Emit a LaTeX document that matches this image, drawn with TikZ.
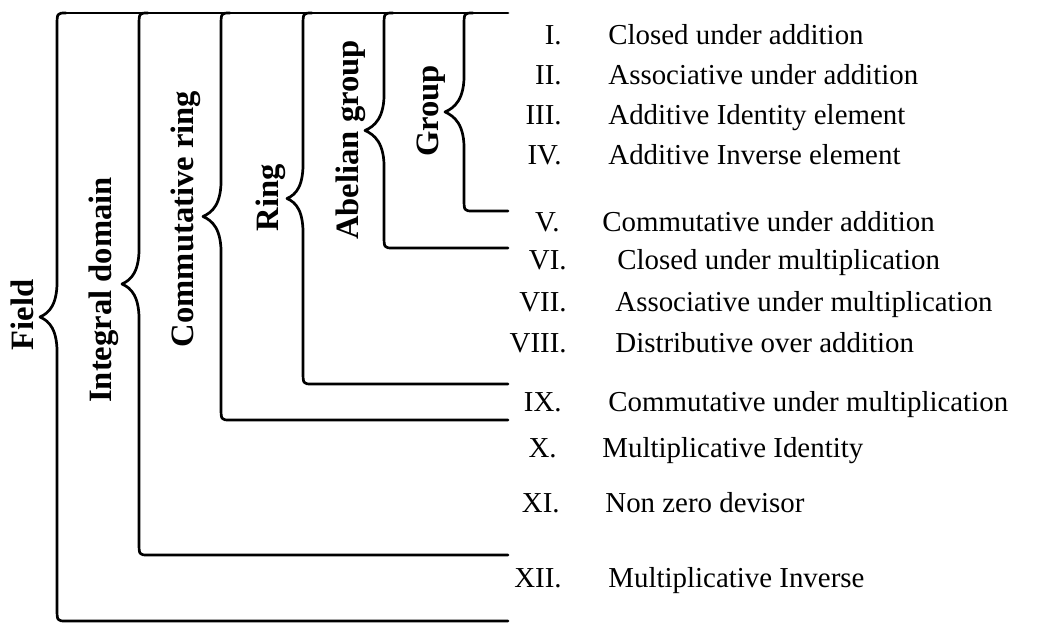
\documentclass[tikz,border=0pt]{standalone}
\usepackage{fontspec}
\setmainfont{Liberation Serif}
\usetikzlibrary{positioning}
\tikzset{
  setlabel/.style={rotate=90, inner sep=0pt,
                   font=\fontsize{16.3}{18}\selectfont\bfseries},
  axnum/.style={anchor=base east, inner sep=0pt,
                font=\fontsize{14.45}{16}\selectfont},
  axtext/.style={anchor=base west, inner sep=0pt,
                 font=\fontsize{14.45}{16}\selectfont},
  setbrace/.style={line width=1.35pt, line join=round, line cap=round},
}
% left brace hanging from the top line: #1 stem x, #2 tip x, #3 bottom y
\newcommand{\algbrace}[3]{%
  \draw[setbrace] ({#1+9},13) .. controls ({#1},13) .. ({#1},27)
    -- ({#1},{(13+#3)/2-40})
    .. controls ({#1+1},{(13+#3)/2-12}) and ({#2+9},{(13+#3)/2-4}) .. ({#2},{(13+#3)/2})
    .. controls ({#2+9},{(13+#3)/2+4}) and ({#1+1},{(13+#3)/2+12}) .. ({#1},{(13+#3)/2+40})
    -- ({#1},{#3-14}) .. controls ({#1},{#3}) .. ({#1+9},{#3})
    -- (508,{#3});}

\begin{document}
\begin{tikzpicture}[x=0.5pt, y=-0.5pt]
  \useasboundingbox (0,0) rectangle (1044,624);
  % top line shared by all braces
  \draw[setbrace] (66,13) -- (508,13);
  % braces, outside in
  \algbrace{57}{40}{621}
  \algbrace{139}{122}{555}
  \algbrace{221}{203}{420}
  \algbrace{303}{287}{384}
  \algbrace{384}{365}{248}
  \algbrace{464}{445}{211}
  % structure names
  \node[setlabel] (field) at (22,315) {Field};
  \node[setlabel] (intdom) at (104,290) {Integral domain};
  \node[setlabel] (comring) at (186,219) {Commutative ring};
  \node[setlabel] (ring) at (271,198) {Ring};
  \node[setlabel] (abgroup) at (351,140) {Abelian group};
  \node[setlabel] (group) at (431,111) {Group};
  % axioms
  \node[axnum] (n1) at (562,44.5) {I.};
  \node[axtext, base right=23pt of n1] (p1) {Closed under addition};
  \node[axnum] (n2) at (562,84.5) {II.};
  \node[axtext, base right=23pt of n2] (p2) {Associative under addition};
  \node[axnum] (n3) at (562,124.5) {III.};
  \node[axtext, base right=23pt of n3] (p3) {Additive Identity element};
  \node[axnum] (n4) at (562,164.5) {IV.};
  \node[axtext, base right=23pt of n4] (p4) {Additive Inverse element};
  \node[axnum] (n5) at (560,231.5) {V.};
  \node[axtext, base right=21pt of n5] (p5) {Commutative under addition};
  \node[axnum] (n6) at (567,269.5) {VI.};
  \node[axtext, base right=25pt of n6] (p6) {Closed under multiplication};
  \node[axnum] (n7) at (567,311.5) {VII.};
  \node[axtext, base right=24pt of n7] (p7) {Associative under multiplication};
  \node[axnum] (n8) at (567,352.5) {VIII.};
  \node[axtext, base right=24pt of n8] (p8) {Distributive over addition};
  \node[axnum] (n9) at (562,411.5) {IX.};
  \node[axtext, base right=23pt of n9] (p9) {Commutative under multiplication};
  \node[axnum] (n10) at (557,457.5) {X.};
  \node[axtext, base right=22.5pt of n10] (p10) {Multiplicative Identity};
  \node[axnum] (n11) at (560,512.5) {XI.};
  \node[axtext, base right=22.5pt of n11] (p11) {Non zero devisor};
  \node[axnum] (n12) at (562,587.5) {XII.};
  \node[axtext, base right=23pt of n12] (p12) {Multiplicative Inverse};
\end{tikzpicture}
\end{document}
